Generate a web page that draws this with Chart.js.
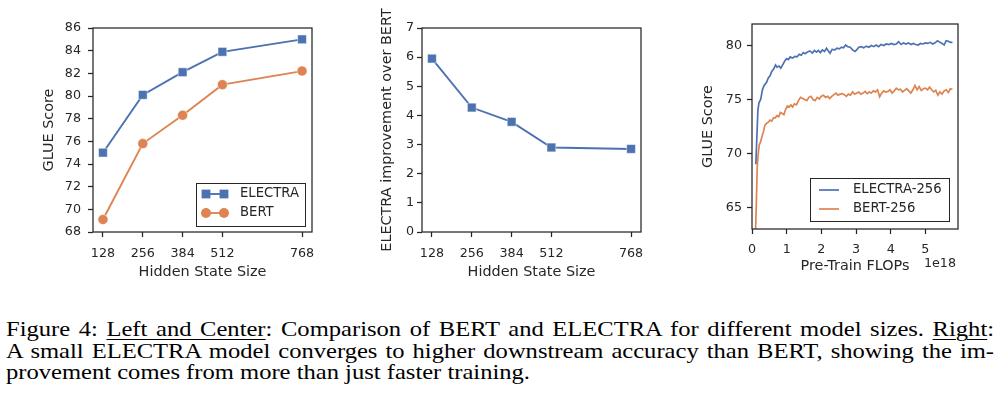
<!DOCTYPE html>
<html><head><meta charset="utf-8">
<script src="https://cdn.jsdelivr.net/npm/chart.js@4.4.0/dist/chart.umd.min.js"></script>
<style>
html,body{margin:0;padding:0;background:#fff;}
body{width:999px;height:399px;position:relative;overflow:hidden;}
canvas{position:absolute;top:0;}
#c1{left:0;}
#c2{left:370px;}
#c3{left:680px;}
#cap{position:absolute;left:6px;top:319px;width:844.5px;font-family:'Liberation Serif','Times New Roman',serif;font-size:21px;line-height:21.7px;color:#000;transform:scaleX(1.17);transform-origin:left top;}
#cap .j{text-align:justify;text-align-last:justify;}
#cap u{text-decoration-thickness:1px;text-underline-offset:3px;}
</style>
</head><body>
<canvas id="c1" width="330" height="290"></canvas>
<canvas id="c2" width="290" height="290"></canvas>
<canvas id="c3" width="319" height="290"></canvas>
<div id="cap">
<div class="j">Figure 4: <u>Left and Center</u>: Comparison of BERT and ELECTRA for different model sizes. <u>Right</u>:</div>
<div class="j">A small ELECTRA model converges to higher downstream accuracy than BERT, showing the im-</div>
<div>provement comes from more than just faster training.</div>
</div>
<script>
// ---------- data ----------
const hiddenSizes = [128, 256, 384, 512, 768];
const electraScores = [75.0, 80.1, 82.1, 83.9, 85.0];
const bertScores = [69.1, 75.8, 78.3, 81.0, 82.2];
const improvement = [5.95, 4.27, 3.78, 2.9, 2.85];

const leftYTicks = [68, 70, 72, 74, 76, 78, 80, 82, 84, 86];
const centerYTicks = [0, 1, 2, 3, 4, 5, 6, 7];
const rightXTicks = [0, 1, 2, 3, 4, 5];
const rightYTicks = [65, 70, 75, 80];

// Pre-train FLOPs (x 1e18) and GLUE score
const electra256X = [0.11,0.14,0.17,0.20,0.25,0.30,0.35,0.42,0.47,0.52,0.57,0.62,0.68,0.72,0.78,0.83,0.90,0.95,1.00,1.05,1.10,1.17,1.24,1.30,1.36,1.42,1.48,1.53,1.60,1.67,1.74,1.80,1.86,1.91,1.97,2.03,2.09,2.15,2.20,2.25,2.31,2.39,2.45,2.52,2.58,2.64,2.70,2.76,2.83,2.90,2.97,3.03,3.08,3.15,3.22,3.30,3.37,3.44,3.51,3.58,3.65,3.72,3.80,3.87,3.95,4.02,4.09,4.16,4.23,4.30,4.37,4.44,4.51,4.58,4.65,4.72,4.79,4.86,4.93,5.00,5.07,5.14,5.21,5.28,5.35,5.42,5.48,5.54,5.60,5.66,5.72,5.78];
const electra256Y = [69.0,71.5,74.0,74.7,75.0,75.9,76.3,76.6,77.0,77.2,77.6,77.8,78.2,78.0,78.1,77.9,78.3,78.6,78.8,78.7,78.95,78.85,79.0,78.95,79.2,79.1,79.35,79.25,79.4,79.5,79.3,79.55,79.4,79.55,79.35,79.6,79.45,79.75,79.5,79.3,79.65,79.6,79.75,79.7,79.85,79.8,80.05,79.9,79.85,79.6,79.45,79.65,79.85,79.9,79.8,79.95,79.85,80.0,79.9,80.05,79.9,80.1,80.0,80.15,80.1,80.2,80.1,80.15,80.35,80.1,80.25,80.15,80.25,80.1,80.2,80.1,80.05,80.2,80.15,80.25,80.2,80.3,80.15,80.25,80.45,80.3,80.2,80.05,80.45,80.4,80.3,80.3];

const bert256X = [0.10,0.13,0.15,0.18,0.21,0.25,0.29,0.33,0.37,0.42,0.47,0.52,0.57,0.62,0.67,0.72,0.77,0.82,0.87,0.92,0.97,1.02,1.07,1.12,1.17,1.22,1.28,1.34,1.40,1.46,1.52,1.58,1.64,1.70,1.76,1.82,1.88,1.94,2.00,2.06,2.12,2.18,2.24,2.30,2.36,2.42,2.48,2.54,2.60,2.66,2.72,2.78,2.84,2.90,2.96,3.02,3.08,3.14,3.20,3.26,3.32,3.38,3.44,3.50,3.56,3.62,3.68,3.74,3.80,3.86,3.92,3.98,4.04,4.10,4.16,4.22,4.28,4.34,4.40,4.46,4.52,4.58,4.64,4.70,4.76,4.82,4.88,4.94,5.00,5.06,5.12,5.18,5.24,5.30,5.36,5.42,5.48,5.54,5.60,5.66,5.72,5.78];
const bert256Y = [62.5,66.0,68.7,70.0,70.8,71.1,71.6,72.0,72.6,72.8,72.9,73.1,73.0,73.3,73.3,73.5,73.4,73.8,73.7,73.6,74.1,74.4,74.3,74.5,74.3,74.6,74.5,74.9,75.2,75.1,75.0,74.9,75.2,75.3,75.0,74.9,75.2,75.05,75.3,75.4,75.2,75.3,75.1,75.3,75.45,75.6,75.4,75.5,75.55,75.45,75.3,75.5,75.4,75.7,75.5,75.6,75.7,75.5,75.6,75.75,75.55,75.7,75.6,75.8,75.7,75.9,75.25,75.6,75.8,75.7,75.75,75.9,75.6,75.8,76.05,75.9,75.95,75.7,75.85,76.0,75.8,75.6,75.9,76.3,75.9,76.2,75.85,76.0,76.05,75.9,76.15,75.9,75.7,75.85,75.4,75.7,75.5,75.8,75.9,75.65,76.0,75.95];

// ---------- style ----------
const AX = '#262626';
const BLUE = '#4c72b0';
const ORANGE = '#dd8452';
const TICK_FONT = 12.7, TITLE_FONT = 14.4, LEGEND_FONT = 13.2;
Chart.defaults.font.family = "'DejaVu Sans', sans-serif";
Chart.defaults.color = AX;
Chart.defaults.animation = false;

const pts = (xs, ys) => xs.map((x, i) => ({x, y: ys[i]}));

const framePlugin = {
  id: 'frame',
  afterDatasetsDraw(chart) {
    const {ctx, chartArea: a} = chart;
    ctx.save();
    ctx.strokeStyle = AX; ctx.lineWidth = 1.25;
    ctx.strokeRect(a.left, a.top, a.right - a.left, a.bottom - a.top);
    ctx.restore();
  }
};

const boxLegend = {
  id: 'boxLegend',
  afterDraw(chart, args, o) {
    if (!o || !o.items) return;
    const ctx = chart.ctx;
    ctx.save();
    ctx.fillStyle = 'rgba(255,255,255,0.85)';
    ctx.fillRect(o.x, o.y, o.w, o.h);
    ctx.strokeStyle = AX; ctx.lineWidth = 1;
    ctx.strokeRect(o.x + 0.5, o.y + 0.5, o.w, o.h);
    o.items.forEach(it => {
      const ds = chart.data.datasets[it.ds];
      ctx.strokeStyle = ds.borderColor; ctx.lineWidth = ds.borderWidth;
      ctx.beginPath(); ctx.moveTo(o.x0, it.y); ctx.lineTo(o.x1, it.y); ctx.stroke();
      ctx.fillStyle = ds.borderColor;
      if (ds.pointRadius > 0) {
        [o.x0, o.x1].forEach(mx => {
          if (ds.pointStyle === 'rect') {
            const s = ds.pointRadius * Math.SQRT1_2;
            ctx.fillRect(mx - s, it.y - s, 2 * s, 2 * s);
          } else {
            ctx.beginPath(); ctx.arc(mx, it.y, ds.pointRadius, 0, Math.PI * 2); ctx.fill();
          }
        });
      }
      ctx.fillStyle = AX;
      ctx.font = LEGEND_FONT + "px 'DejaVu Sans'";
      ctx.textBaseline = 'middle'; ctx.textAlign = 'left';
      ctx.fillText(ds.label, o.tx, it.y);
    });
    ctx.restore();
  }
};

const offsetText = {
  id: 'offsetText',
  afterDraw(chart, args, o) {
    if (!o || !o.text) return;
    const ctx = chart.ctx;
    ctx.save();
    ctx.fillStyle = AX; ctx.font = TICK_FONT + "px 'DejaVu Sans'";
    ctx.textAlign = 'right'; ctx.textBaseline = 'middle';
    ctx.fillText(o.text, o.x, o.y);
    ctx.restore();
  }
};

function gridCfg() {
  return {display: true, drawOnChartArea: false, drawTicks: true, tickLength: 5, tickColor: AX, tickWidth: 1.25};
}

function xScale(min, max, ticks, title, titlePad, height, tickPad) {
  return {
    type: 'linear', min, max,
    afterBuildTicks: s => { s.ticks = ticks.map(v => ({value: v})); },
    afterFit: s => { s.height = height; },
    grid: gridCfg(), border: {display: false},
    ticks: {font: {size: TICK_FONT}, padding: tickPad, color: AX, maxRotation: 0, autoSkip: false},
    title: {display: true, text: title, font: {size: TITLE_FONT}, color: AX, padding: {top: 0, bottom: titlePad}}
  };
}
function yScale(min, max, ticks, title, titlePad, width, tickPad) {
  return {
    type: 'linear', min, max,
    afterBuildTicks: s => { s.ticks = ticks.map(v => ({value: v})); },
    afterFit: s => { s.width = width; },
    grid: gridCfg(), border: {display: false},
    ticks: {font: {size: TICK_FONT}, padding: tickPad, color: AX},
    title: {display: true, text: title, font: {size: TITLE_FONT}, color: AX, padding: {top: titlePad, bottom: 0}}
  };
}

// ---------- left chart ----------
new Chart(document.getElementById('c1'), {
  type: 'line',
  data: {datasets: [
    {label: 'ELECTRA', data: pts(hiddenSizes, electraScores), borderColor: BLUE, backgroundColor: BLUE,
     pointStyle: 'rect', pointRadius: 6.2, pointBorderColor: 'rgba(255,255,255,0.7)', pointBorderWidth: 0.7, borderWidth: 1.9, tension: 0},
    {label: 'BERT', data: pts(hiddenSizes, bertScores), borderColor: ORANGE, backgroundColor: ORANGE,
     pointStyle: 'circle', pointRadius: 5.0, pointBorderColor: 'rgba(255,255,255,0.7)', pointBorderWidth: 0.7, borderWidth: 1.9, tension: 0}
  ]},
  options: {
    responsive: false,
    layout: {padding: {left: 0, right: 18, top: 28, bottom: 0}},
    scales: {
      x: xScale(96, 800, hiddenSizes, 'Hidden State Size', 8.6, 58, 9),
      y: yScale(68, 86, leftYTicks, 'GLUE Score', 40.3, 93, 7)
    },
    plugins: {
      legend: {display: false}, tooltip: {enabled: false},
      boxLegend: {x: 196, y: 183, w: 109, h: 43, x0: 206, x1: 224, tx: 240, items: [{ds: 0, y: 194}, {ds: 1, y: 213}]}
    }
  },
  plugins: [framePlugin, boxLegend]
});

// ---------- center chart ----------
new Chart(document.getElementById('c2'), {
  type: 'line',
  data: {datasets: [
    {label: 'ELECTRA improvement', data: pts(hiddenSizes, improvement), borderColor: BLUE, backgroundColor: BLUE,
     pointStyle: 'rect', pointRadius: 6.2, pointBorderColor: 'rgba(255,255,255,0.7)', pointBorderWidth: 0.7, borderWidth: 1.9, tension: 0}
  ]},
  options: {
    responsive: false,
    layout: {padding: {left: 0, right: 19, top: 28, bottom: 0}},
    scales: {
      x: xScale(96, 800, hiddenSizes, 'Hidden State Size', 8.6, 58, 9),
      y: yScale(0, 7, centerYTicks, 'ELECTRA improvement over BERT', 8.8, 52, 3)
    },
    plugins: {legend: {display: false}, tooltip: {enabled: false}}
  },
  plugins: [framePlugin]
});

// ---------- right chart ----------
new Chart(document.getElementById('c3'), {
  type: 'line',
  data: {datasets: [
    {label: 'ELECTRA-256', data: pts(electra256X, electra256Y), borderColor: BLUE, backgroundColor: BLUE,
     pointRadius: 0, borderWidth: 1.7, tension: 0},
    {label: 'BERT-256', data: pts(bert256X, bert256Y), borderColor: ORANGE, backgroundColor: ORANGE,
     pointRadius: 0, borderWidth: 1.7, tension: 0}
  ]},
  options: {
    responsive: false,
    layout: {padding: {left: 0, right: 41, top: 24, bottom: 0}},
    scales: {
      x: xScale(0, 5.94, rightXTicks, 'Pre-Train FLOPs', 14.7, 61, 8),
      y: yScale(63, 82, rightYTicks, 'GLUE Score', 19.3, 72, 5)
    },
    plugins: {
      legend: {display: false}, tooltip: {enabled: false},
      boxLegend: {x: 130, y: 178, w: 139, h: 43, x0: 139, x1: 159, tx: 173, items: [{ds: 0, y: 190}, {ds: 1, y: 209}]},
      offsetText: {text: '1e18', x: 276, y: 264}
    }
  },
  plugins: [framePlugin, boxLegend, offsetText]
});
</script>
</body></html>
